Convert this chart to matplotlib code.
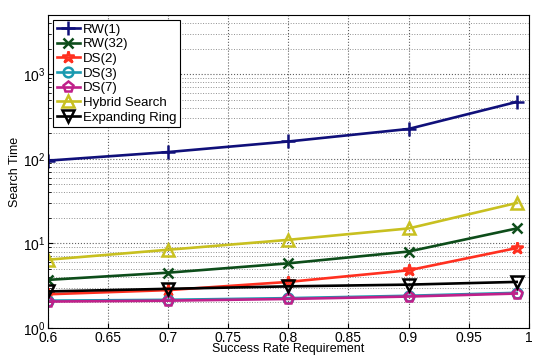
import numpy as np
import matplotlib
matplotlib.use("Agg")
import matplotlib.pyplot as plt

plt.rcParams['font.family'] = ['Liberation Sans', 'DejaVu Sans']

x = [0.6, 0.7, 0.8, 0.9, 0.99]
rw1 = [95, 120, 160, 225, 470]
rw32 = [3.7, 4.5, 5.8, 8.0, 15.0]
ds2 = [2.5, 2.8, 3.5, 4.8, 8.8]
ds3 = [2.1, 2.15, 2.25, 2.4, 2.6]
ds7 = [2.05, 2.1, 2.2, 2.35, 2.55]
hybrid = [6.4, 8.4, 11.0, 15.0, 30.0]
ering = [2.7, 2.9, 3.1, 3.25, 3.5]

series = [
    ("RW(1)", rw1, '#10107a', '+', 10),
    ("RW(32)", rw32, '#0d4d1a', 'x', 7),
    ("DS(2)", ds2, '#ff3020', '*', 9),
    ("DS(3)", ds3, '#1a9ab0', 'o', 7),
    ("DS(7)", ds7, '#c0208a', 'p', 8),
    ("Hybrid Search", hybrid, '#c8c020', '^', 8),
    ("Expanding Ring", ering, '#000000', 'v', 8),
]

fig = plt.figure(figsize=(5.33, 3.58), dpi=100)
ax = fig.add_axes([0.09, 0.084, 0.902, 0.874])

for name, vals, col, mk, ms in series:
    ax.plot(x, vals, color=col, marker=mk, markersize=ms, linewidth=1.9,
            markerfacecolor='none', markeredgewidth=1.8, label=name)

ax.set_yscale('log')
ax.set_ylim(1, 5000)
ax.set_xlim(0.6, 1.0)
ax.set_xticks([0.6, 0.65, 0.7, 0.75, 0.8, 0.85, 0.9, 0.95, 1.0])
ax.set_xticklabels(['0.6', '0.65', '0.7', '0.75', '0.8', '0.85', '0.9', '0.95', '1'])
ax.set_yticks([1, 10, 100, 1000])
ax.grid(True, which='major', linestyle=':', color='#606060', linewidth=0.8)
ax.grid(True, which='minor', axis='y', linestyle=':', color='#909090', linewidth=0.7)
ax.tick_params(direction='in', which='both', labelsize=10, pad=2)
ax.tick_params(which='minor', length=2)

ax.set_xlabel("Success Rate Requirement", fontsize=9, labelpad=-1)
ax.set_ylabel("Search Time", fontsize=9, labelpad=1)

leg = ax.legend(loc='upper left', fontsize=9.5, handlelength=1.8, handletextpad=0.2,
                labelspacing=0.18, borderpad=0.25, fancybox=False, framealpha=1,
                edgecolor='black', borderaxespad=0.4)
leg.get_frame().set_linewidth(0.8)

fig.savefig("out.png", dpi=100)
